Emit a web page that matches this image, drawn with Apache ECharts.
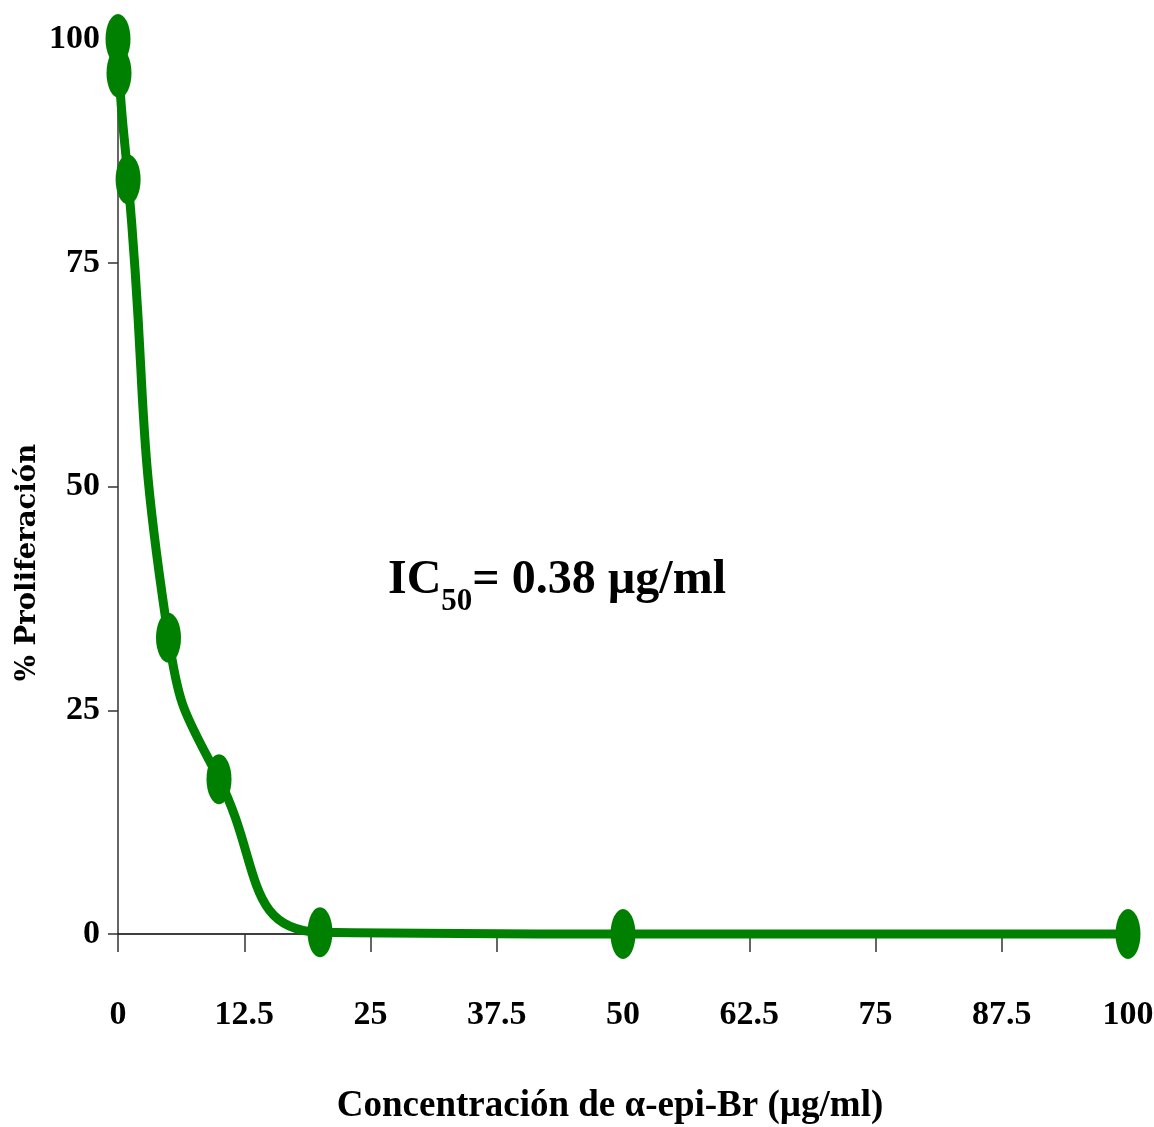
<!DOCTYPE html>
<html>
<head>
<meta charset="utf-8">
<script src="https://cdn.jsdelivr.net/npm/echarts@6/dist/echarts.min.js"></script>
<style>
  html, body { margin: 0; padding: 0; background: #fff; }
</style>
</head>
<body>
<div id="chart" style="width: 1154px; height: 1127px"></div>
<script>
// concentracion (ug/ml) y % proliferacion
var concentraciones = [0, 0.1, 1, 5, 10, 20, 50, 100];
var proliferacion = [100, 96.2, 84.3, 33.1, 17.3, 0.2, 0, 0];
var xTicks = { min: 0, max: 100, step: 12.5 };
var yTicks = { min: 0, max: 100, step: 25 };
var anotacion = ["IC", "50", "= 0.38 µg/ml"];

var verde = "#008000";
var serif = "'Liberation Serif', 'Times New Roman', serif";

var chartDom = document.getElementById("chart");
var myChart = echarts.init(chartDom);
var option;

var puntos = concentraciones.map(function (c, i) {
  return [c, proliferacion[i]];
});

option = {
  animation: false,
  backgroundColor: "#fff",
  grid: {
    left: 118,
    right: 26,
    top: 39,
    bottom: 193,
    outerBoundsMode: "none",
    containLabel: false,
  },
  xAxis: {
    type: "value",
    min: xTicks.min,
    max: xTicks.max,
    interval: xTicks.step,
    name: "Concentración de α-epi-Br (µg/ml)",
    nameLocation: "middle",
    nameGap: 154,
    nameTextStyle: {
      fontFamily: serif,
      fontWeight: "bold",
      fontSize: 37,
      color: "#000",
      padding: [0, 26, 0, 0],
    },
    axisLine: { lineStyle: { color: "#000", width: 1.5 } },
    axisTick: { show: true, inside: false, length: 18, lineStyle: { color: "#333", width: 1.5 } },
    axisLabel: {
      margin: 64,
      fontFamily: serif,
      fontWeight: "bold",
      fontSize: 34,
      color: "#000",
    },
    splitLine: { show: false },
  },
  yAxis: {
    type: "value",
    min: yTicks.min,
    max: yTicks.max,
    interval: yTicks.step,
    name: "% Proliferación",
    nameLocation: "middle",
    nameMoveOverlap: false,
    nameGap: 76,
    nameTextStyle: {
      fontFamily: "'DejaVu Serif', serif",
      fontWeight: "bold",
      fontSize: 27.5,
      color: "#000",
      padding: [0, 152, 0, 0],
    },
    axisLine: { show: true, lineStyle: { color: "#333", width: 1.5 } },
    axisTick: { show: true, inside: false, length: 10, lineStyle: { color: "#333", width: 1.5 } },
    axisLabel: {
      margin: 18,
      fontFamily: serif,
      fontWeight: "bold",
      fontSize: 34,
      color: "#000",
    },
    splitLine: { show: false },
  },
  graphic: [
    {
      type: "text",
      left: 388,
      top: 557,
      style: {
        text: "{a|" + anotacion[0] + "}{b|" + anotacion[1] + "}{a|" + anotacion[2] + "}",
        rich: {
          a: { fontFamily: serif, fontWeight: "bold", fontSize: 48, fill: "#000" },
          b: { fontFamily: serif, fontWeight: "bold", fontSize: 31, fill: "#000", padding: [42, 0, 0, 0] },
        },
      },
    },
  ],
  series: [
    {
      type: "line",
      data: puntos,
      smooth: 0.5,
      clip: false,
      symbol: "path://M0,25 A12,25 0 1,1 24,25 A12,25 0 1,1 0,25 Z",
      symbolSize: [25, 50],
      showAllSymbol: true,
      itemStyle: { color: verde },
      lineStyle: { color: verde, width: 9 },
    },
  ],
};

option && myChart.setOption(option);
</script>
</body>
</html>
